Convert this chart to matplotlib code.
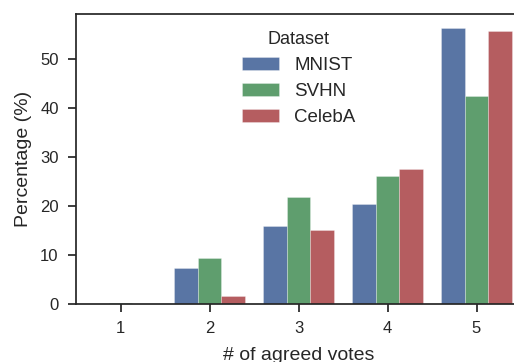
import matplotlib
matplotlib.use("Agg")
import matplotlib.pyplot as plt
import numpy as np
import seaborn as sns

votes = ["1", "2", "3", "4", "5"]
datasets = ["MNIST", "SVHN", "CelebA"]
mnist = [0.1, 7.3, 15.9, 20.4, 56.3]
svhn = [0.2, 9.4, 21.8, 26.1, 42.4]
celeba = [0.05, 1.6, 15.2, 27.5, 55.7]
series = [mnist, svhn, celeba]

sns.set_style("ticks")
plt.rcParams["font.family"] = ["Liberation Sans", "DejaVu Sans"]
plt.rcParams["axes.linewidth"] = 1.25
plt.rcParams["xtick.major.width"] = 1.25
plt.rcParams["ytick.major.width"] = 1.25
plt.rcParams["xtick.major.size"] = 6
plt.rcParams["ytick.major.size"] = 6

# old seaborn "deep" colours, desaturated like barplot does
base = ["#4C72B0", "#55A868", "#C44E52"]
colors = [sns.desaturate(c, 0.75) for c in base]

fig = plt.figure(figsize=(5.14, 3.62), dpi=100)
ax = fig.add_axes([76 / 514, 58 / 362, 445 / 514, 290 / 362])

x = np.arange(len(votes))
w = 0.8 / len(datasets)
for j, (name, vals) in enumerate(zip(datasets, series)):
    ax.bar(x + (j - 1) * w, vals, width=w, color=colors[j], label=name,
           edgecolor=(1, 1, 1, 0.5), linewidth=0.4)

ax.set_xticks(x)
ax.set_xticklabels(votes)
ax.set_ylim(0, 59.2)
ax.set_xlim(-0.5, 4.5)
ax.set_yticks([0, 10, 20, 30, 40, 50])
ax.tick_params(labelsize=12, colors="#262626", pad=6.5)
ax.set_xlabel("# of agreed votes", fontsize=14, color="#262626", labelpad=8)
ax.set_ylabel("Percentage (%)", fontsize=14, color="#262626", labelpad=6)

leg = ax.legend(title="Dataset", loc="upper left", bbox_to_anchor=(0.335, 1.0),
                frameon=False, fontsize=13.5, title_fontsize=13,
                handlelength=2.0, handleheight=0.7, labelspacing=0.47)

fig.savefig("out.png", dpi=100)
